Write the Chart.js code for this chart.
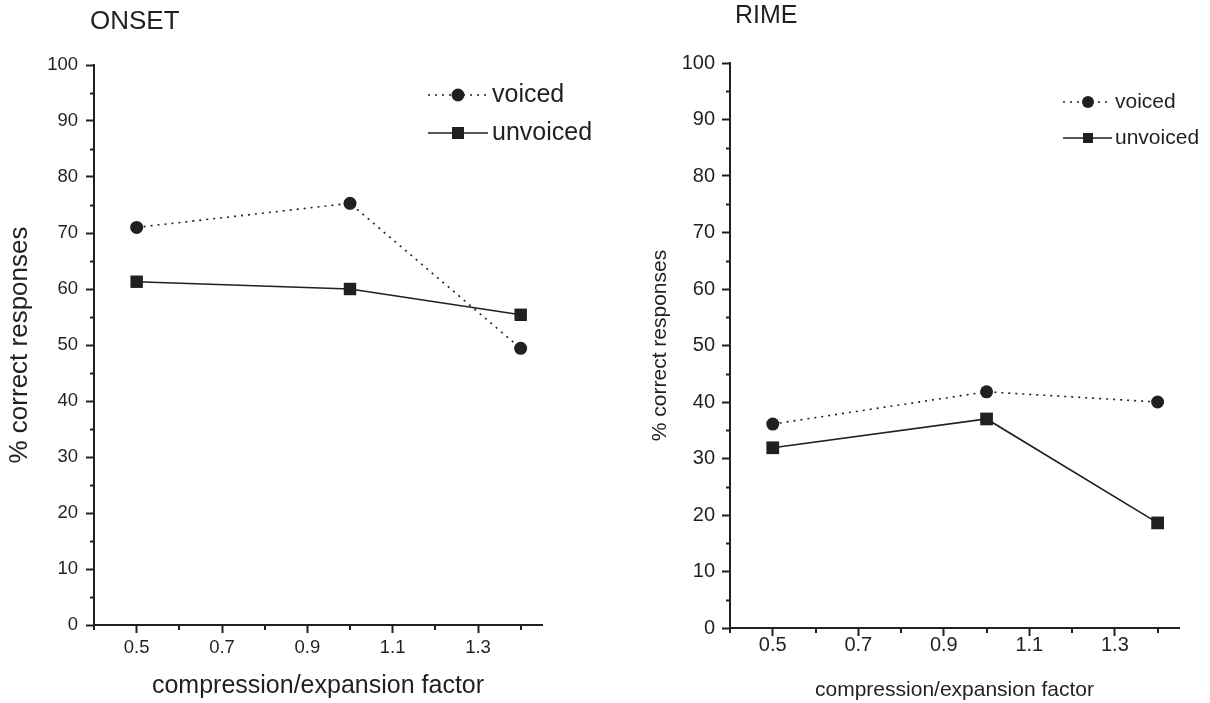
<!DOCTYPE html>
<html>
<head>
<meta charset="utf-8">
<title>Onset / Rime</title>
<script src="https://cdn.jsdelivr.net/npm/chart.js@4/dist/chart.umd.min.js"></script>
<style>
    html, body { margin: 0; padding: 0; background: #ffffff; }
    #wrap { position: relative; width: 1210px; height: 703px; overflow: hidden; }
    canvas { position: absolute; top: 0; }
    #onsetChart { left: 0; }
    #rimeChart { left: 605px; }
</style>
</head>
<body>
<div id="wrap">
    <canvas id="onsetChart" width="605" height="703"></canvas>
    <canvas id="rimeChart" width="605" height="703"></canvas>
</div>
<script>
// Compression/expansion factors that were tested
const factors = [0.5, 1.0, 1.4];

// % correct responses per factor
const onsetVoiced = [71.0, 75.3, 49.4];
const onsetUnvoiced = [61.3, 60.0, 55.4];
const rimeVoiced = [36.1, 41.8, 40.0];
const rimeUnvoiced = [31.9, 37.0, 18.6];

const seriesNames = ['voiced', 'unvoiced'];
const panelTitles = ['ONSET', 'RIME'];

// Axis ticks
const xTickValues = [0.5, 0.7, 0.9, 1.1, 1.3];
const xMinorTicks = [0.4, 0.6, 0.8, 1.0, 1.2, 1.4];
const yMinorTicks = [5, 15, 25, 35, 45, 55, 65, 75, 85, 95];

const ink = '#231f20';
const fontFamily = "'Liberation Sans', Arial, Helvetica, sans-serif";

// Panel title, minor ticks and the line+marker legend
const panelDecor = {
    id: 'panelDecor',
    afterDraw(chart, args, opts) {
        const ctx = chart.ctx;
        const xs = chart.scales.x;
        const ys = chart.scales.y;
        ctx.save();
        ctx.strokeStyle = ink;
        ctx.fillStyle = ink;

        // minor ticks
        ctx.lineWidth = 2;
        ctx.beginPath();
        yMinorTicks.forEach(v => {
            const py = Math.round(ys.getPixelForValue(v)) + 0.5;
            ctx.moveTo(chart.chartArea.left, py);
            ctx.lineTo(chart.chartArea.left - 4, py);
        });
        xMinorTicks.forEach(v => {
            const px = Math.round(xs.getPixelForValue(v));
            ctx.moveTo(px, chart.chartArea.bottom);
            ctx.lineTo(px, chart.chartArea.bottom + 5);
        });
        ctx.stroke();

        // title
        ctx.font = opts.titleSize + 'px ' + fontFamily;
        ctx.textAlign = 'left';
        ctx.textBaseline = 'middle';
        ctx.fillText(opts.title, opts.titleX, opts.titleY);

        // legend
        const lg = opts.legend;
        ctx.font = lg.size + 'px ' + fontFamily;
        chart.data.datasets.forEach((ds, i) => {
            const y = lg.rows[i];
            ctx.lineWidth = ds.borderWidth;
            ctx.setLineDash(ds.borderDash || []);
            ctx.beginPath();
            ctx.moveTo(lg.lineStart, y);
            ctx.lineTo(lg.lineEnd, y);
            ctx.stroke();
            ctx.setLineDash([]);
            ctx.beginPath();
            if (ds.pointStyle === 'rect') {
                const s = lg.rectSize;
                ctx.rect(lg.markerX - s / 2, y - s / 2, s, s);
            } else {
                ctx.arc(lg.markerX, y, lg.circleRadius, 0, Math.PI * 2);
            }
            ctx.fill();
            ctx.fillText(ds.label, lg.textX, y);
        });
        ctx.restore();
    }
};

function buildPanel(canvas, voiced, unvoiced, layout) {
    const points = values => values.map((v, i) => ({ x: factors[i], y: v }));

    return new Chart(canvas, {
        type: 'line',
        data: {
            datasets: [
                {
                    label: seriesNames[0],
                    data: points(voiced),
                    borderColor: ink,
                    backgroundColor: ink,
                    borderWidth: 1.6,
                    borderDash: [2, 5],
                    pointStyle: 'circle',
                    pointRadius: layout.circleRadius,
                    pointBorderWidth: 0,
                    tension: 0
                },
                {
                    label: seriesNames[1],
                    data: points(unvoiced),
                    borderColor: ink,
                    backgroundColor: ink,
                    borderWidth: 1.6,
                    pointStyle: 'rect',
                    pointRadius: layout.rectRadius,
                    pointBorderWidth: 0,
                    tension: 0
                }
            ]
        },
        options: {
            responsive: false,
            maintainAspectRatio: false,
            animation: false,
            devicePixelRatio: 1,
            layout: { padding: layout.padding },
            plugins: {
                legend: { display: false },
                tooltip: { enabled: false },
                panelDecor: layout.decor
            },
            scales: {
                x: {
                    type: 'linear',
                    min: 0.4,
                    max: 1.45,
                    afterBuildTicks: scale => {
                        scale.ticks = xTickValues.map(v => ({ value: v }));
                    },
                    afterFit: scale => { scale.height = layout.xHeight; },
                    border: { display: true, color: ink, width: 2 },
                    grid: {
                        drawOnChartArea: false,
                        drawTicks: true,
                        tickLength: 8,
                        tickWidth: 2,
                        tickColor: ink
                    },
                    ticks: {
                        color: ink,
                        padding: layout.xTickPadding,
                        maxRotation: 0,
                        autoSkip: false,
                        font: { family: fontFamily, size: layout.tickSize },
                        callback: value => Number(value).toFixed(1)
                    },
                    title: {
                        display: true,
                        text: 'compression/expansion factor',
                        color: ink,
                        font: { family: fontFamily, size: layout.xTitleSize },
                        padding: { top: 0, bottom: layout.xTitlePad }
                    }
                },
                y: {
                    min: 0,
                    max: 100,
                    afterFit: scale => { scale.width = layout.yWidth; },
                    border: { display: true, color: ink, width: 2 },
                    grid: {
                        drawOnChartArea: false,
                        drawTicks: true,
                        tickLength: 8,
                        tickWidth: 2,
                        tickColor: ink
                    },
                    ticks: {
                        stepSize: 10,
                        color: ink,
                        padding: layout.yTickPadding,
                        font: { family: fontFamily, size: layout.tickSize }
                    },
                    title: {
                        display: true,
                        text: '% correct responses',
                        color: ink,
                        font: { family: fontFamily, size: layout.yTitleSize },
                        padding: { top: layout.yTitlePad, bottom: 0 }
                    }
                }
            }
        },
        plugins: [panelDecor]
    });
}

document.addEventListener('DOMContentLoaded', function () {
    try {
        buildPanel(document.getElementById('onsetChart'), onsetVoiced, onsetUnvoiced, {
            padding: { top: 65, right: 63, bottom: 0, left: 0 },
            yWidth: 94,
            xHeight: 78,
            tickSize: 18.5,
            xTickPadding: 4,
            yTickPadding: 8,
            xTitleSize: 25,
            xTitlePad: 2,
            yTitleSize: 26,
            yTitlePad: 4,
            circleRadius: 6.5,
            rectRadius: 8.8,
            decor: {
                title: panelTitles[0], titleX: 90, titleY: 21.5, titleSize: 26,
                legend: {
                    size: 25, rows: [95, 133],
                    lineStart: 428, lineEnd: 488, markerX: 458, textX: 492,
                    circleRadius: 6.5, rectSize: 12
                }
            }
        });

        buildPanel(document.getElementById('rimeChart'), rimeVoiced, rimeUnvoiced, {
            padding: { top: 63, right: 31, bottom: 0, left: 40 },
            yWidth: 85,
            xHeight: 75,
            tickSize: 20,
            xTickPadding: -3,
            yTickPadding: 7,
            xTitleSize: 21,
            xTitlePad: 0.5,
            yTitleSize: 21,
            yTitlePad: 2.4,
            circleRadius: 6.5,
            rectRadius: 9,
            decor: {
                title: panelTitles[1], titleX: 130, titleY: 16, titleSize: 25,
                legend: {
                    size: 21, rows: [102, 138],
                    lineStart: 458, lineEnd: 507, markerX: 483, textX: 510,
                    circleRadius: 6, rectSize: 10
                }
            }
        });
    } catch (error) {
        console.error('Error building charts:', error);
    }
});
</script>
</body>
</html>
